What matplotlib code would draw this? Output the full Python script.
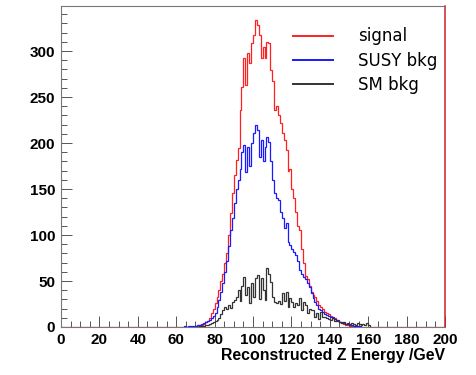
import numpy as np
import matplotlib
matplotlib.use('Agg')
import matplotlib.pyplot as plt

#--- histogram contents, 1 GeV bins starting at the given lower edge
sig_start = 65
signal = [0, 0, 0, 0, 0, 1, 1, 2, 2, 3,
          5, 7, 10, 15, 20, 26, 33, 40, 50, 58,
          70, 80, 100, 124, 146, 165, 182, 195, 236, 261,
          292, 263, 298, 287, 309, 317, 334, 328, 317, 293,
          304, 293, 310, 309, 279, 268, 236, 240, 230, 222,
          211, 203, 192, 170, 172, 150, 140, 125, 110, 105,
          85, 70, 55, 52, 45, 38, 35, 33, 28, 24,
          22, 20, 16, 15, 14, 12, 10, 10, 8, 6,
          5, 4, 3, 2, 2, 1, 1, 1, 1, 0, 1]

susy_start = 64
susy = [1, 0, 1, 1, 1, 1, 1, 2, 2, 3, 4,
        5, 6, 8, 10, 12, 15, 22, 29, 38, 48,
        60, 72, 88, 105, 118, 135, 150, 160, 172, 190,
        198, 168, 196, 175, 200, 211, 220, 214, 185, 203,
        181, 196, 207, 201, 181, 160, 146, 140, 138, 125,
        118, 108, 113, 92, 89, 85, 82, 78, 72, 62,
        58, 54, 52, 48, 43, 37, 32, 27, 24, 20,
        18, 16, 14, 13, 12, 11, 11, 9, 8, 7,
        5, 5, 4, 3, 3, 2, 2, 1, 1, 1, 1]

sm_start = 72
sm = [1, 1, 1, 2, 2, 3, 4, 5, 6, 8,
      10, 14, 18, 22, 20, 24, 21, 27, 29, 33,
      40, 28, 45, 54, 35, 43, 26, 48, 33, 53,
      57, 30, 53, 40, 29, 64, 58, 49, 33, 27,
      26, 28, 25, 37, 28, 38, 22, 32, 27, 22,
      26, 24, 32, 18, 27, 24, 15, 20, 18, 18,
      11, 15, 9, 16, 11, 11, 10, 9, 8, 10,
      7, 6, 8, 5, 4, 5, 3, 4, 3, 4,
      3, 2, 4, 3, 2, 3, 2, 4, 2]

labels = ['signal', 'SUSY bkg', 'SM bkg']
colors = ['#ff2020', '#1a1aff', '#333333']

edges = np.arange(0, 201, 1)


def full_hist(start, vals):
    h = np.zeros(len(edges) - 1)
    h[start:start + len(vals)] = vals
    return h


fig = plt.figure(figsize=(4.76, 3.75), dpi=100)
ax = fig.add_axes([0.128, 0.128, 0.807, 0.856])

#--- red signal over full range (gives red baseline), others on top
ax.stairs(full_hist(sig_start, signal), edges, color=colors[0], lw=0.9,
          zorder=2)
e_s = np.arange(susy_start, susy_start + len(susy) + 1)
ax.stairs(susy, e_s, color=colors[1], lw=0.9, zorder=3)
e_m = np.arange(sm_start, sm_start + len(sm) + 1)
ax.stairs(sm, e_m, color=colors[2], lw=0.9, zorder=4)

ax.set_xlim(0, 200)
ax.set_ylim(0, 349)

ax.set_xticks(np.arange(0, 201, 20))
ax.set_xticks(np.arange(0, 201, 5), minor=True)
ax.set_yticks(np.arange(0, 301, 50))
ax.set_yticks(np.arange(0, 341, 10), minor=True)

ax.tick_params(which='both', direction='in', color='#555555', width=0.7,
               top=False, right=False)
ax.tick_params(which='major', length=8)
ax.tick_params(which='minor', length=4)
ax.tick_params(axis='x', pad=4)
ax.tick_params(axis='y', pad=4)

for lab in ax.get_xticklabels() + ax.get_yticklabels():
    lab.set_fontfamily('Liberation Sans')
    lab.set_fontweight('bold')
    lab.set_fontsize(11)

for sp in ['left', 'top', 'bottom']:
    ax.spines[sp].set_color('#777777')
    ax.spines[sp].set_linewidth(0.8)
ax.spines['right'].set_color('#cc2222')
ax.spines['right'].set_linewidth(1.1)

ax.set_xlabel('Reconstructed Z Energy /GeV', loc='right',
              fontfamily='Liberation Sans', fontweight='bold', fontsize=11.4,
              labelpad=1)

#--- legend with plain line handles
handles = [plt.Line2D([], [], color=c, lw=1.4) for c in colors]
ax.legend(handles, labels, loc='upper left', bbox_to_anchor=(0.565, 0.98),
          frameon=False, handlelength=2.4, handletextpad=1.5,
          labelspacing=0.38, prop={'family': 'DejaVu Sans', 'size': 12})

fig.savefig('out.png', dpi=100)
